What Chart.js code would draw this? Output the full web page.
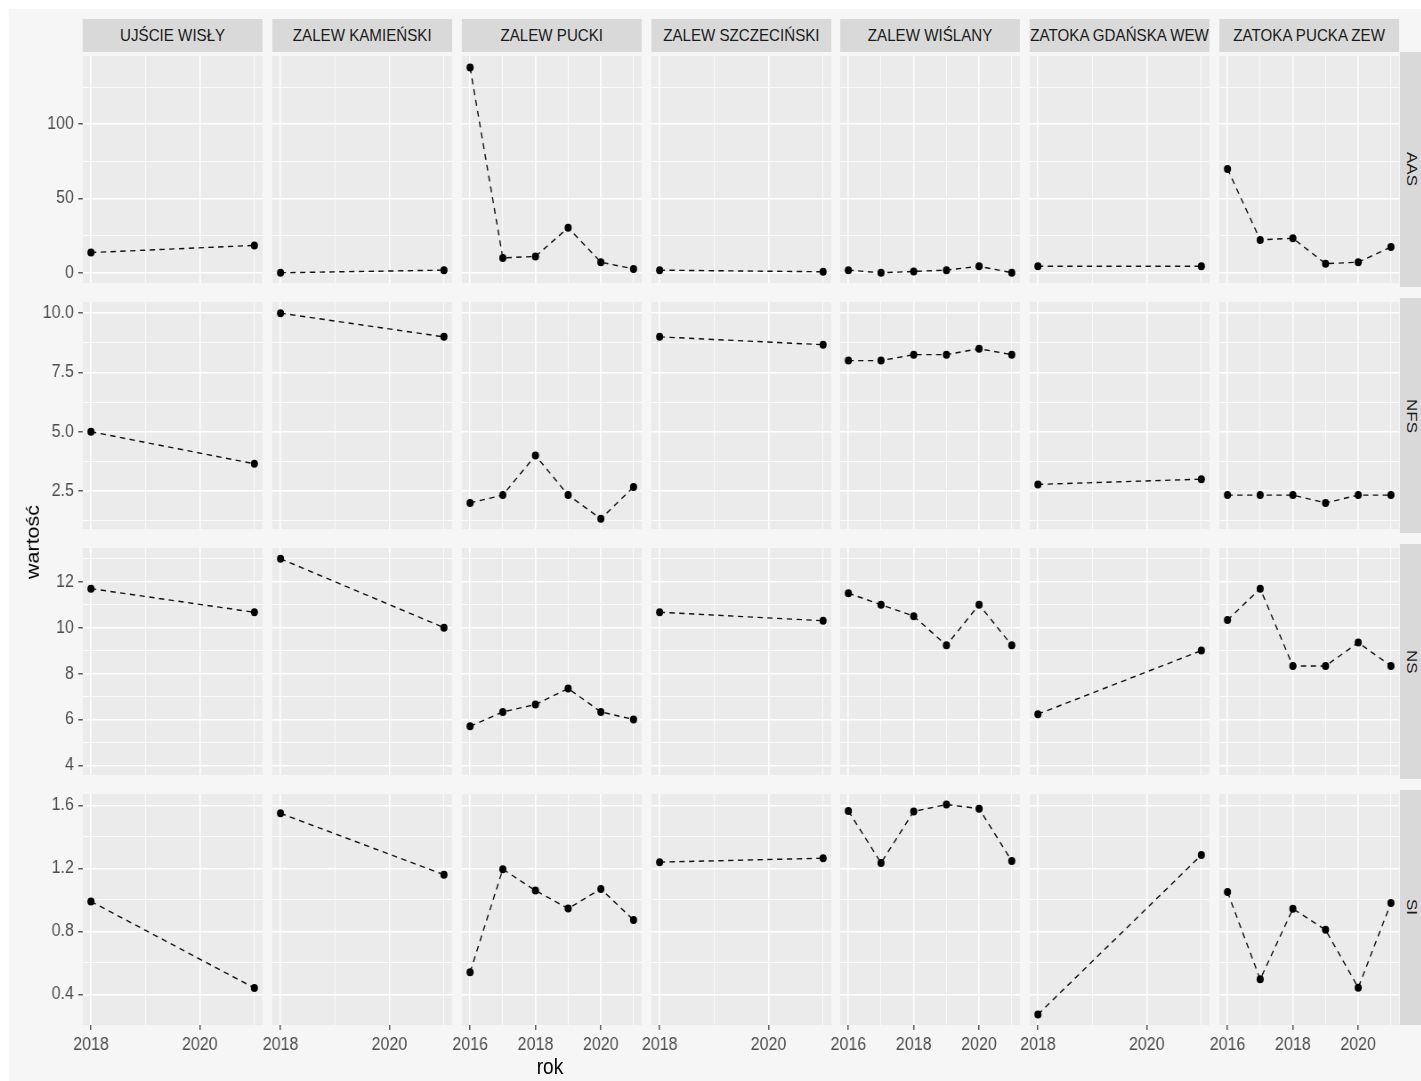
<!DOCTYPE html>
<html lang="pl">
<head>
<meta charset="utf-8">
<title>wartość wg roku</title>
<script src="https://cdn.jsdelivr.net/npm/chart.js@4.4.1/dist/chart.umd.min.js"></script>
<style>
  html, body { margin: 0; padding: 0; background: #ffffff; }
  #frame { position: relative; width: 1421px; height: 1081px; overflow: hidden; background: #ffffff; }
  #fig { position: absolute; left: 0; top: 0; height: 1081px; transform-origin: 0 0;
         font-family: "Liberation Sans", Arial, sans-serif; }
  #sheet { position: absolute; top: 9px; right: 0; bottom: 0; background: #f6f6f6; }
  canvas { position: absolute; }
  .strip-top { position: absolute; background: #d9d9d9; color: #1a1a1a; font-size: 17px;
               display: flex; align-items: center; justify-content: center; white-space: nowrap; overflow: hidden; }
  .strip-right { position: absolute; background: #d9d9d9; color: #1a1a1a; font-size: 17px;
                 display: flex; align-items: center; justify-content: center; white-space: nowrap; overflow: hidden; }
  .strip-right span { writing-mode: vertical-rl; }
  .axis-title { position: absolute; color: #000; font-size: 21.5px; white-space: nowrap;
                transform: translate(-50%, -50%); }
  .axis-title.vertical { transform: translate(-50%, -50%) rotate(-90deg); }
</style>
</head>
<body>
<div id="frame">
  <div id="fig"><div id="sheet"></div></div>
</div>
<script>
// Facets: columns are water bodies, rows are indices
const regions = ['UJŚCIE WISŁY', 'ZALEW KAMIEŃSKI', 'ZALEW PUCKI', 'ZALEW SZCZECIŃSKI',
                 'ZALEW WIŚLANY', 'ZATOKA GDAŃSKA WEW', 'ZATOKA PUCKA ZEW'];
const indices = ['AAS', 'NFS', 'NS', 'SI'];

// Survey years per water body
const yearsShort = [2018, 2021];
const yearsLong = [2016, 2017, 2018, 2019, 2020, 2021];
const regionYears = [yearsShort, yearsShort, yearsLong, yearsShort, yearsLong, yearsShort, yearsLong];

// Values per index, one list per water body (same order as regions)
const valuesAAS = [
  [13.6, 18.4],
  [0.0, 1.75],
  [138.1, 10.0, 11.0, 30.3, 7.1, 2.6],
  [1.75, 0.65],
  [1.75, 0.0, 0.9, 1.75, 4.35, 0.0],
  [4.35, 4.35],
  [69.9, 22.1, 23.2, 6.1, 7.1, 17.3]
];
const valuesNFS = [
  [5.0, 3.65],
  [10.0, 9.0],
  [2.0, 2.33, 4.0, 2.33, 1.33, 2.67],
  [9.0, 8.67],
  [8.0, 8.0, 8.25, 8.25, 8.5, 8.25],
  [2.78, 3.0],
  [2.33, 2.33, 2.33, 2.0, 2.33, 2.33]
];
const valuesNS = [
  [11.7, 10.67],
  [13.0, 10.0],
  [5.7, 6.33, 6.65, 7.35, 6.33, 6.0],
  [10.67, 10.3],
  [11.5, 11.0, 10.5, 9.23, 11.0, 9.23],
  [6.23, 9.0],
  [10.33, 11.7, 8.33, 8.33, 9.35, 8.33]
];
const valuesSI = [
  [0.99, 0.44],
  [1.55, 1.16],
  [0.54, 1.195, 1.06, 0.945, 1.07, 0.872],
  [1.24, 1.265],
  [1.565, 1.235, 1.562, 1.606, 1.58, 1.247],
  [0.272, 1.285],
  [1.05, 0.495, 0.943, 0.81, 0.442, 0.98]
];
const rowValues = [valuesAAS, valuesNFS, valuesNS, valuesSI];

// Y axis: limits, major/minor breaks and tick labels per row
const yLimits = [[-6.9, 145.9], [0.9, 10.47], [3.58, 13.47], [0.205, 1.673]];
const yMajor = [[0, 50, 100], [2.5, 5, 7.5, 10], [4, 6, 8, 10, 12], [0.4, 0.8, 1.2, 1.6]];
const yMinor = [[25, 75, 125], [1.25, 3.75, 6.25, 8.75], [5, 7, 9, 11, 13], [0.6, 1.0, 1.4]];
const yTickLabels = [['0', '50', '100'], ['2.5', '5.0', '7.5', '10.0'], ['4', '6', '8', '10', '12'], ['0.4', '0.8', '1.2', '1.6']];

// X axis: two layouts depending on the survey period
const xLimitsShort = [2017.85, 2021.15];
const xMajorShort = [2018, 2020];
const xMinorShort = [2019, 2021];
const xTickLabelsShort = ['2018', '2020'];
const xLimitsLong = [2015.75, 2021.25];
const xMajorLong = [2016, 2018, 2020];
const xMinorLong = [2017, 2019, 2021];
const xTickLabelsLong = ['2016', '2018', '2020'];

const xTitle = 'rok';
const yTitle = 'wartość';

// ---------------------------------------------------------------- layout
// The figure is laid out on a wider sheet and squeezed horizontally by SX.
const SX = 0.89;
const FONT = '"Liberation Sans", Arial, sans-serif';
const COL_LEFT0 = 82.7, COL_STEP = 189.45, PANEL_W_OUT = 180;
const ROW_TOP0 = 52, ROW_STEP = 245.9, PANEL_H = 235;
const STRIP_TOP = 19, STRIP_H = 33, STRIP_RIGHT_W = 22;

const frame = document.getElementById('frame');
const fig = document.getElementById('fig');
const sheet = document.getElementById('sheet');
const FIG_W = Math.ceil(1421 / SX);
fig.style.width = FIG_W + 'px';
fig.style.transform = 'scaleX(' + SX + ')';
sheet.style.left = Math.round(9 / SX) + 'px';

const ux = px => px / SX;                      // output x -> sheet x
const PANEL_W = Math.round(ux(PANEL_W_OUT));
const colLeft = c => Math.round(ux(COL_LEFT0 + c * COL_STEP));
const rowTop = r => Math.round(ROW_TOP0 + r * ROW_STEP);
const near = (arr, v) => arr.findIndex(m => Math.abs(m - v) < 1e-9);

// grey panel background under the grid
const panelBackground = {
  id: 'panelBackground',
  beforeDraw(chart) {
    const { ctx, chartArea: a } = chart;
    ctx.save();
    ctx.fillStyle = '#ebebeb';
    ctx.fillRect(a.left, a.top, a.right - a.left, a.bottom - a.top);
    ctx.restore();
  }
};

function axisOptions(axis, limits, major, minor, labels, showLabels, size) {
  return {
    type: 'linear',
    position: axis === 'x' ? 'bottom' : 'left',
    min: limits[0],
    max: limits[1],
    afterBuildTicks(scale) {
      scale.ticks = major.concat(minor).sort((a, b) => a - b).map(v => ({ value: v }));
    },
    afterFit(scale) {
      if (axis === 'x') scale.height = size; else scale.width = size;
      scale.paddingLeft = scale.paddingRight = scale.paddingTop = scale.paddingBottom = 0;
    },
    ticks: {
      display: showLabels,
      autoSkip: false,
      maxRotation: 0,
      minRotation: 0,
      padding: axis === 'x' ? 4 : 5,
      color: '#4d4d4d',
      font: { family: FONT, size: 18 },
      callback(v) {
        const i = near(major, v);
        return i < 0 ? '' : labels[i];
      }
    },
    grid: {
      color: '#ffffff',
      lineWidth: ctx => (ctx.tick && near(major, ctx.tick.value) >= 0) ? 1.6 : 0.8,
      drawTicks: showLabels,
      tickLength: 5,
      tickWidth: 1.2,
      tickColor: ctx => (ctx.tick && near(major, ctx.tick.value) >= 0) ? '#333333' : 'rgba(0,0,0,0)'
    },
    border: { display: false }
  };
}

function drawPanel(r, c) {
  const left = colLeft(c), top = rowTop(r);
  const lastRow = r === indices.length - 1;
  const mL = c === 0 ? left : 28;
  const mR = 28;
  const mB = lastRow ? 44 : 0;
  const w = PANEL_W + mL + mR, h = PANEL_H + mB;

  const cv = document.createElement('canvas');
  cv.width = w; cv.height = h;
  cv.style.width = w + 'px'; cv.style.height = h + 'px';
  cv.style.left = (left - mL) + 'px'; cv.style.top = top + 'px';
  fig.appendChild(cv);

  const years = regionYears[c];
  const vals = rowValues[r][c];
  const isLong = years.length > 2;

  new Chart(cv, {
    type: 'line',
    data: {
      datasets: [{
        data: years.map((x, i) => ({ x, y: vals[i] })),
        borderColor: '#111111',
        borderWidth: 1.4,
        borderDash: [6, 5],
        tension: 0,
        fill: false,
        pointRadius: 4,
        pointHoverRadius: 4,
        pointBackgroundColor: '#000000',
        pointBorderWidth: 0,
        clip: false
      }]
    },
    options: {
      responsive: false,
      maintainAspectRatio: false,
      animation: false,
      events: [],
      layout: { padding: { left: 0, right: mR, top: 0, bottom: 0 } },
      plugins: { legend: { display: false }, tooltip: { enabled: false } },
      scales: {
        x: axisOptions('x',
          isLong ? xLimitsLong : xLimitsShort,
          isLong ? xMajorLong : xMajorShort,
          isLong ? xMinorLong : xMinorShort,
          isLong ? xTickLabelsLong : xTickLabelsShort,
          lastRow, mB),
        y: axisOptions('y', yLimits[r], yMajor[r], yMinor[r], yTickLabels[r], c === 0, mL)
      }
    },
    plugins: [panelBackground]
  });
}

// facet strips on top
regions.forEach((name, c) => {
  const d = document.createElement('div');
  d.className = 'strip-top';
  d.style.left = colLeft(c) + 'px';
  d.style.top = STRIP_TOP + 'px';
  d.style.width = PANEL_W + 'px';
  d.style.height = STRIP_H + 'px';
  d.textContent = name;
  fig.appendChild(d);
});

// facet strips on the right
indices.forEach((name, r) => {
  const d = document.createElement('div');
  d.className = 'strip-right';
  d.style.left = (colLeft(regions.length - 1) + PANEL_W + 1) + 'px';
  d.style.top = rowTop(r) + 'px';
  d.style.width = Math.round(ux(STRIP_RIGHT_W)) + 'px';
  d.style.height = PANEL_H + 'px';
  const s = document.createElement('span');
  s.textContent = name;
  d.appendChild(s);
  fig.appendChild(d);
});

for (let r = 0; r < indices.length; r++) {
  for (let c = 0; c < regions.length; c++) drawPanel(r, c);
}

// axis titles
const xt = document.createElement('div');
xt.className = 'axis-title';
xt.style.left = Math.round(ux(550)) + 'px';
xt.style.top = '1067px';
xt.textContent = xTitle;
fig.appendChild(xt);

const yt = document.createElement('div');
yt.className = 'axis-title vertical';
yt.style.left = Math.round(ux(33)) + 'px';
yt.style.top = '542px';
yt.textContent = yTitle;
fig.appendChild(yt);
</script>
</body>
</html>
